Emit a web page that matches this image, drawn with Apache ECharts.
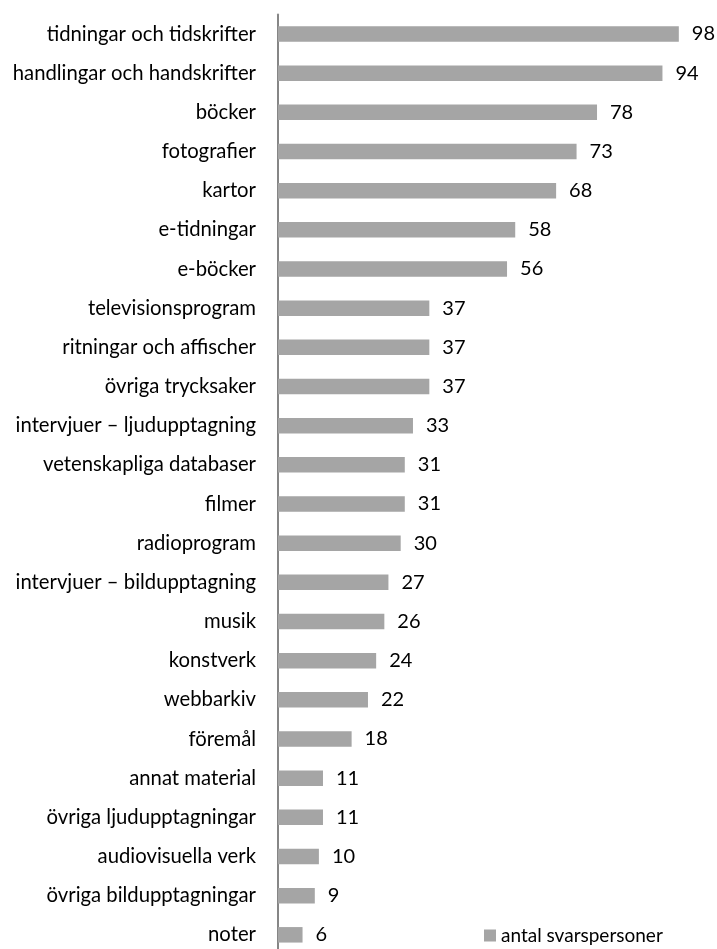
<!DOCTYPE html>
<html><head><meta charset="utf-8">
<script src="https://cdn.jsdelivr.net/npm/echarts@6/dist/echarts.min.js"></script>
<style>html,body{margin:0;padding:0;background:#fff;overflow:hidden}#c{width:717px;height:960px}</style>
</head><body><div id="c"></div>
<script>
const categories = ["tidningar och tidskrifter","handlingar och handskrifter","böcker","fotografier","kartor","e-tidningar","e-böcker","televisionsprogram","ritningar och affischer","övriga trycksaker","intervjuer – ljudupptagning","vetenskapliga databaser","filmer","radioprogram","intervjuer – bildupptagning","musik","konstverk","webbarkiv","föremål","annat material","övriga ljudupptagningar","audiovisuella verk","övriga bildupptagningar","noter"];
const values = [98,94,78,73,68,58,56,37,37,37,33,31,31,30,27,26,24,22,18,11,11,10,9,6];
const seriesName = "antal svarspersoner";
const font = "Lato, 'Open Sans', sans-serif";
const chart = echarts.init(document.getElementById('c'));
chart.setOption({
  animation:false,
  grid:{left:278, top:14.4, width:409, height:940},
  xAxis:{type:'value', min:0, max:100, show:false},
  yAxis:{type:'category', data:categories, inverse:true,
    axisLine:{show:true, lineStyle:{color:'#868686', width:2}},
    axisTick:{show:false},
    axisLabel:{color:'#000', fontFamily:font, fontSize:20.3, margin:22}},
  legend:{data:[seriesName], left:484, top:926, padding:0, itemWidth:12, itemHeight:12, itemGap:4,
    textStyle:{color:'#000', fontFamily:font, fontSize:19}, icon:'rect'},
  series:[{name:seriesName, type:'bar', data:values, barWidth:15.5,
    itemStyle:{color:'#A5A5A5'},
    label:{show:true, position:'right', distance:13, color:'#000', fontFamily:font, fontSize:20}}]
});
</script></body></html>
